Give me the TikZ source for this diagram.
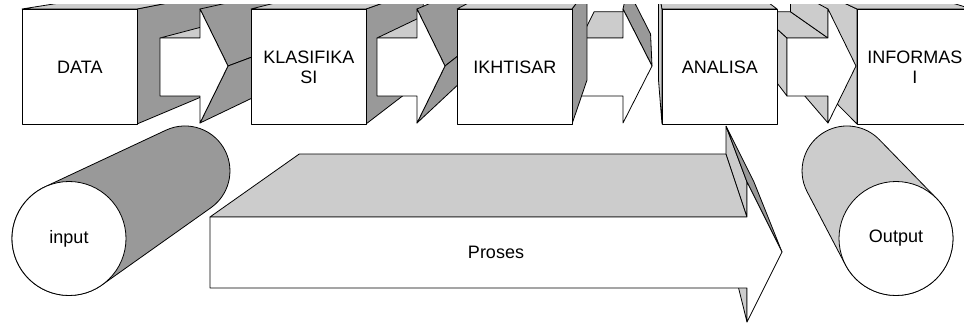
\documentclass[tikz,border=0pt]{standalone}
\usepackage{fontspec}
\setmainfont{Liberation Sans}
\usetikzlibrary{calc}
\definecolor{dk}{HTML}{999999}
\definecolor{lt}{HTML}{CCCCCC}
\def\kk{0.205}
% box with visible right side (left of vanishing point)
\newcommand\boxR[4]{%
  \path[darkface] (#2,9) -- (#2,124) -- ($(#2,124)!\kk!(vp)$) -- ($(#2,9)!\kk!(vp)$) -- cycle;
  \path[lightface] (#1,9) -- (#2,9) -- ($(#2,9)!\kk!(vp)$) -- ($(#1,9)!\kk!(vp)$) -- cycle;
  \node[frontface, minimum width=115pt, minimum height=115pt, anchor=north west, lbl] (#3) at (#1,9) {#4};}
% box with visible left side (right of vanishing point)
\newcommand\boxL[4]{%
  \path[lightface] (#1,9) -- (#1,124) -- ($(#1,124)!\kk!(vp)$) -- ($(#1,9)!\kk!(vp)$) -- cycle;
  \path[lightface] (#1,9) -- (#2,9) -- ($(#2,9)!\kk!(vp)$) -- ($(#1,9)!\kk!(vp)$) -- cycle;
  \node[frontface, minimum width=115pt, minimum height=115pt, anchor=north west, lbl] (#3) at (#1,9) {#4};}
% arrow left of vanishing point: shaft start, head base, tip
\newcommand\arrowL[3]{%
  \path[lightface] (#1,38) -- (#2,38) -- ($(#2,38)!\kk!(vp)$) -- ($(#1,38)!\kk!(vp)$) -- cycle;
  \path[darkface] (#2,9) -- (#3,66) -- ($(#3,66)!\kk!(vp)$) -- ($(#2,9)!\kk!(vp)$) -- cycle;
  \path[darkface] (#3,66) -- (#2,123) -- ($(#2,123)!\kk!(vp)$) -- ($(#3,66)!\kk!(vp)$) -- cycle;
  \path[frontface] (#1,38) -- (#2,38) -- (#2,9) -- (#3,66) -- (#2,123) -- (#2,96) -- (#1,96) -- cycle;}
\begin{document}
\begin{tikzpicture}[x=1pt,y=-1pt, line join=round,
  edge/.style={draw=black, line width=0.8pt},
  darkface/.style={edge, fill=dk},
  lightface/.style={edge, fill=lt},
  frontface/.style={edge, fill=white, inner sep=0pt},
  lbl/.style={font=\fontsize{18}{20}\selectfont, align=center}]
\useasboundingbox (0,0) rectangle (964,323);
\coordinate (vp) at (645,-90);
\begin{scope}
\clip (0,5) rectangle (964,323);
% left group
\boxR{22}{137}{data}{DATA}
\arrowL{160}{200}{228}
\boxR{251}{366}{klas}{KLASIFIKA\\SI}
\arrowL{377}{417}{445}
% arrow 3
\path[lightface] (581,38) -- (623,38) -- ($(623,38)!\kk!(vp)$) -- ($(581,38)!\kk!(vp)$) -- cycle;
\path[darkface] (623,9) -- (652,66) -- ($(652,66)!\kk!(vp)$) -- ($(623,9)!\kk!(vp)$) -- cycle;
\path[frontface] (581,38) -- (623,38) -- (623,9) -- (652,66) -- (623,123) -- (623,96) -- (581,96) -- cycle;
\boxR{457}{572}{ikht}{IKHTISAR}
% right group
\boxL{857}{972}{info}{INFORMAS\\I}
% arrow 4
\path[lightface] (787,96) -- (787,38) -- ($(787,38)!\kk!(vp)$) -- ($(787,96)!\kk!(vp)$) -- cycle;
\path[lightface] (828,96) -- (828,123) -- ($(828,123)!\kk!(vp)$) -- ($(828,96)!\kk!(vp)$) -- cycle;
\path[lightface] (787,38) -- (828,38) -- ($(828,38)!\kk!(vp)$) -- ($(787,38)!\kk!(vp)$) -- cycle;
\path[lightface] (828,38) -- (828,9) -- ($(828,9)!\kk!(vp)$) -- ($(828,38)!\kk!(vp)$) -- cycle;
\path[frontface] (787,38) -- (828,38) -- (828,9) -- (856,66) -- (828,123) -- (828,96) -- (787,96) -- cycle;
\boxL{662}{777}{anal}{ANALISA}
% input cylinder
\path[darkface] (44.8,186.9) -- (165.9,130.2) arc[start angle=-115.07, end angle=54.67, radius=45]
  -- (101.9,285.0) arc[start angle=54.67, end angle=244.93, radius=57] -- cycle;
\node[frontface, circle, minimum size=114pt, lbl] (input) at (69,238.5) {input};
% output cylinder
\path[lightface] (845.5,265) -- (807.2,191.9) arc[start angle=152.3, end angle=315.76, radius=45]
  -- (936.8,198.7) arc[start angle=-44.24, end angle=152.3, radius=57] -- cycle;
\node[frontface, circle, minimum size=114pt, lbl] (output) at (896,238.5) {Output};
% Proses arrow
\path[lightface] (747,322) -- (747,288) -- ($(747,288)!\kk!(vp)$) -- ($(747,322)!\kk!(vp)$) -- cycle;
\path[lightface] (210,217) -- (747,217) -- ($(747,217)!\kk!(vp)$) -- ($(210,217)!\kk!(vp)$) -- cycle;
\path[lightface] (747,217) -- (747,182) -- ($(747,182)!\kk!(vp)$) -- ($(747,217)!\kk!(vp)$) -- cycle;
\path[darkface] (747,182) -- (782,252) -- ($(782,252)!\kk!(vp)$) -- ($(747,182)!\kk!(vp)$) -- cycle;
\path[frontface] (210,217) -- (747,217) -- (747,182) -- (782,252) -- (747,322) -- (747,288) -- (210,288) -- cycle;
\node[lbl] (proses) at (496,252) {Proses};
\end{scope}
\end{tikzpicture}
\end{document}
